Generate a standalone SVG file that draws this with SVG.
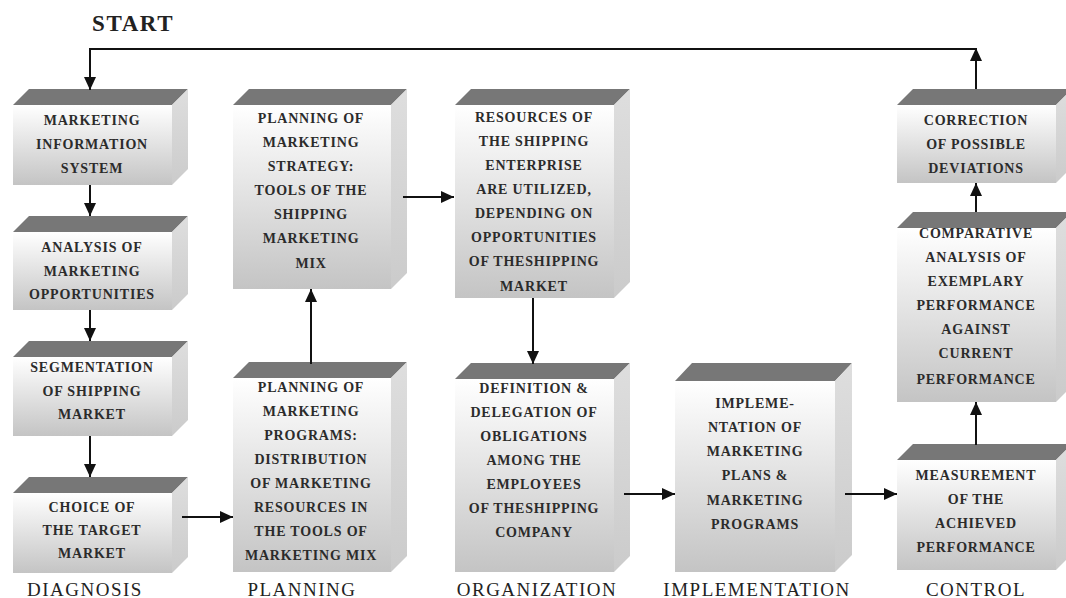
<svg xmlns="http://www.w3.org/2000/svg" width="1066" height="598" viewBox="0 0 1066 598">
<defs>
<linearGradient id="gFront" x1="0" y1="0" x2="0" y2="1">
<stop offset="0" stop-color="#ffffff"/>
<stop offset="1" stop-color="#c4c4c4"/>
</linearGradient>
<linearGradient id="gSide" x1="0" y1="0" x2="0" y2="1">
<stop offset="0" stop-color="#dedede"/>
<stop offset="1" stop-color="#cbcbcb"/>
</linearGradient>
<marker id="ah" markerWidth="13" markerHeight="12" refX="13" refY="6" orient="auto" markerUnits="userSpaceOnUse">
<path d="M0,0 L13,6 L0,12 z" fill="#111"/>
</marker>
<style>
.front{fill:url(#gFront);}
.side{fill:url(#gSide);}
.top{fill:#777777;}
.bt{font-family:"Liberation Serif","Times New Roman",serif;font-weight:bold;font-size:14px;letter-spacing:0.8px;fill:#2b2b2b;text-anchor:middle;}
.lbl{font-family:"Liberation Serif","Times New Roman",serif;font-size:19px;letter-spacing:1.5px;fill:#222;text-anchor:middle;}
.start{font-family:"Liberation Serif","Times New Roman",serif;font-weight:bold;font-size:23px;letter-spacing:1.6px;fill:#222;}
.c{fill:none;stroke:#111;stroke-width:2;}
</style>
</defs>
<rect width="1066" height="598" fill="#ffffff"/>

<text class="start" x="92" y="31">START</text>

<g id="n1">
<polygon class="top" points="13,105 29,89 188,89 172,105"/>
<polygon class="side" points="172,105 188,89 188,169 172,185"/>
<rect class="front" x="13" y="105" width="159" height="80"/>
<text class="bt" x="92" y="125">MARKETING</text>
<text class="bt" x="92" y="149">INFORMATION</text>
<text class="bt" x="92" y="173">SYSTEM</text>
</g>

<g id="n2">
<polygon class="top" points="13,232 29,216 188,216 172,232"/>
<polygon class="side" points="172,232 188,216 188,294 172,310"/>
<rect class="front" x="13" y="232" width="159" height="78"/>
<text class="bt" x="92" y="252">ANALYSIS OF</text>
<text class="bt" x="92" y="276">MARKETING</text>
<text class="bt" x="92" y="299">OPPORTUNITIES</text>
</g>

<g id="n3">
<polygon class="top" points="13,357 29,341 188,341 172,357"/>
<polygon class="side" points="172,357 188,341 188,420 172,436"/>
<rect class="front" x="13" y="357" width="159" height="79"/>
<text class="bt" x="92" y="372">SEGMENTATION</text>
<text class="bt" x="92" y="396">OF SHIPPING</text>
<text class="bt" x="92" y="419">MARKET</text>
</g>

<g id="n4">
<polygon class="top" points="13,493 29,477 188,477 172,493"/>
<polygon class="side" points="172,493 188,477 188,557 172,573"/>
<rect class="front" x="13" y="493" width="159" height="80"/>
<text class="bt" x="92" y="512">CHOICE OF</text>
<text class="bt" x="92" y="535">THE TARGET</text>
<text class="bt" x="92" y="558">MARKET</text>
</g>

<g id="n5">
<polygon class="top" points="233,105 249,89 407,89 391,105"/>
<polygon class="side" points="391,105 407,89 407,273 391,289"/>
<rect class="front" x="233" y="105" width="158" height="184"/>
<text class="bt" x="311" y="123">PLANNING OF</text>
<text class="bt" x="311" y="147">MARKETING</text>
<text class="bt" x="311" y="171">STRATEGY:</text>
<text class="bt" x="311" y="195">TOOLS OF THE</text>
<text class="bt" x="311" y="219">SHIPPING</text>
<text class="bt" x="311" y="243">MARKETING</text>
<text class="bt" x="311" y="268">MIX</text>
</g>

<g id="n6">
<polygon class="top" points="233,378 249,362 407,362 391,378"/>
<polygon class="side" points="391,378 407,362 407,556 391,572"/>
<rect class="front" x="233" y="378" width="158" height="194"/>
<text class="bt" x="311" y="392">PLANNING OF</text>
<text class="bt" x="311" y="416">MARKETING</text>
<text class="bt" x="311" y="440">PROGRAMS:</text>
<text class="bt" x="311" y="464">DISTRIBUTION</text>
<text class="bt" x="311" y="488">OF MARKETING</text>
<text class="bt" x="311" y="512">RESOURCES IN</text>
<text class="bt" x="311" y="536">THE TOOLS OF</text>
<text class="bt" x="311" y="560">MARKETING MIX</text>
</g>

<g id="n7">
<polygon class="top" points="455,105 471,89 630,89 614,105"/>
<polygon class="side" points="614,105 630,89 630,282 614,298"/>
<rect class="front" x="455" y="105" width="159" height="193"/>
<text class="bt" x="534" y="122">RESOURCES OF</text>
<text class="bt" x="534" y="146">THE SHIPPING</text>
<text class="bt" x="534" y="170">ENTERPRISE</text>
<text class="bt" x="534" y="194">ARE UTILIZED,</text>
<text class="bt" x="534" y="218">DEPENDING ON</text>
<text class="bt" x="534" y="242">OPPORTUNITIES</text>
<text class="bt" x="534" y="266">OF THESHIPPING</text>
<text class="bt" x="534" y="291">MARKET</text>
</g>

<g id="n8">
<polygon class="top" points="455,379 471,363 630,363 614,379"/>
<polygon class="side" points="614,379 630,363 630,556 614,572"/>
<rect class="front" x="455" y="379" width="159" height="193"/>
<text class="bt" x="534" y="393">DEFINITION &amp;</text>
<text class="bt" x="534" y="417">DELEGATION OF</text>
<text class="bt" x="534" y="441">OBLIGATIONS</text>
<text class="bt" x="534" y="465">AMONG THE</text>
<text class="bt" x="534" y="489">EMPLOYEES</text>
<text class="bt" x="534" y="513">OF THESHIPPING</text>
<text class="bt" x="534" y="537">COMPANY</text>
</g>

<g id="n9">
<polygon class="top" points="675,381 692,363 852,363 835,381"/>
<polygon class="side" points="835,381 852,363 852,555 835,572"/>
<rect class="front" x="675" y="381" width="160" height="191"/>
<text class="bt" x="755" y="408">IMPLEME-</text>
<text class="bt" x="755" y="432">NTATION OF</text>
<text class="bt" x="755" y="456">MARKETING</text>
<text class="bt" x="755" y="480">PLANS &amp;</text>
<text class="bt" x="755" y="505">MARKETING</text>
<text class="bt" x="755" y="529">PROGRAMS</text>
</g>

<g id="n10">
<polygon class="top" points="897,105 913,89 1072,89 1056,105"/>
<polygon class="side" points="1056,105 1072,89 1072,167 1056,183"/>
<rect class="front" x="897" y="105" width="159" height="78"/>
<text class="bt" x="976" y="125">CORRECTION</text>
<text class="bt" x="976" y="149">OF POSSIBLE</text>
<text class="bt" x="976" y="173">DEVIATIONS</text>
</g>

<g id="n11">
<polygon class="top" points="897,228 913,212 1072,212 1056,228"/>
<polygon class="side" points="1056,228 1072,212 1072,386 1056,402"/>
<rect class="front" x="897" y="228" width="159" height="174"/>
<text class="bt" x="976" y="238">COMPARATIVE</text>
<text class="bt" x="976" y="262">ANALYSIS OF</text>
<text class="bt" x="976" y="286">EXEMPLARY</text>
<text class="bt" x="976" y="310">PERFORMANCE</text>
<text class="bt" x="976" y="334">AGAINST</text>
<text class="bt" x="976" y="358">CURRENT</text>
<text class="bt" x="976" y="384">PERFORMANCE</text>
</g>

<g id="n12">
<polygon class="top" points="897,460 913,444 1072,444 1056,460"/>
<polygon class="side" points="1056,460 1072,444 1072,554 1056,570"/>
<rect class="front" x="897" y="460" width="159" height="110"/>
<text class="bt" x="976" y="480">MEASUREMENT</text>
<text class="bt" x="976" y="504">OF THE</text>
<text class="bt" x="976" y="528">ACHIEVED</text>
<text class="bt" x="976" y="552">PERFORMANCE</text>
</g>

<g id="connectors">
<path class="c" d="M976,89 L976,48" marker-end="url(#ah)"/>
<path class="c" d="M977,49 L90,49 L90,90" marker-end="url(#ah)"/>
<path class="c" d="M90,185 L90,216" marker-end="url(#ah)"/>
<path class="c" d="M90,310 L90,341" marker-end="url(#ah)"/>
<path class="c" d="M90,436 L90,477" marker-end="url(#ah)"/>
<path class="c" d="M182,517 L233,517" marker-end="url(#ah)"/>
<path class="c" d="M311,364 L311,289" marker-end="url(#ah)"/>
<path class="c" d="M403,197 L454,197" marker-end="url(#ah)"/>
<path class="c" d="M533,298 L533,364" marker-end="url(#ah)"/>
<path class="c" d="M624,494 L675,494" marker-end="url(#ah)"/>
<path class="c" d="M845,494 L897,494" marker-end="url(#ah)"/>
<path class="c" d="M976,445 L976,402" marker-end="url(#ah)"/>
<path class="c" d="M976,212 L976,183" marker-end="url(#ah)"/>
</g>

<text class="lbl" x="85" y="596">DIAGNOSIS</text>
<text class="lbl" x="302" y="596">PLANNING</text>
<text class="lbl" x="537" y="596">ORGANIZATION</text>
<text class="lbl" x="757" y="596">IMPLEMENTATION</text>
<text class="lbl" x="976" y="596">CONTROL</text>
</svg>
